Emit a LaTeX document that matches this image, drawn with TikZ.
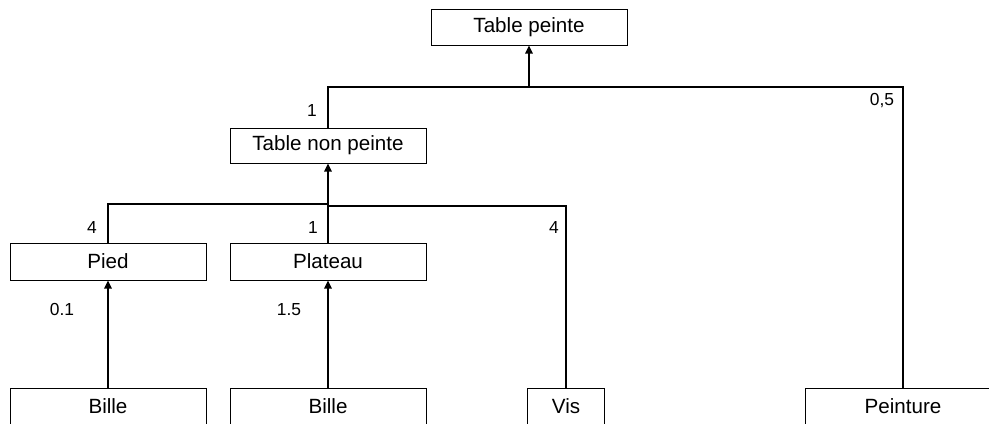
\documentclass[tikz,border=0pt]{standalone}
\usepackage{fontspec}
\setmainfont{Liberation Sans}
\usetikzlibrary{arrows.meta,positioning}
\definecolor{edgecol}{RGB}{0,0,0}

\begin{document}
\begin{tikzpicture}[x=0.5pt, y=-0.5pt,
  box/.style={draw=black, line width=0.5pt, align=center, inner sep=0pt,
              minimum width=98pt, minimum height=18.5pt, font=\fontsize{10.3}{12}\selectfont},
  ln/.style={line width=0.6pt, draw=edgecol},
  ar/.style={-{Triangle[length=4pt, width=3.6pt]}, line width=1pt, draw=edgecol},
  qty/.style={inner sep=0pt, font=\fontsize{8.7}{10}\selectfont},
]
  \clip (0,0) rectangle (989,423);

  \node[box, minimum height=18pt] (tp) at (529,27) {Table peinte};
  \node[box, minimum height=17.5pt] (tnp) at (328,145.5) {Table non peinte};
  \node[box] (pied) at (108,261.5) {Pied};
  \node[box] (plat) at (328,261.5) {Plateau};
  \node[box] (b1) at (108,406.5) {Bille};
  \node[box] (b2) at (328,406.5) {Bille};
  \node[box, minimum width=38.5pt] (vis) at (566,406.5) {Vis};
  \node[box] (pein) at (903,406.5) {Peinture};

  \coordinate (j1) at (529,87);
  \coordinate (j2) at (328,204);
  \coordinate (j2b) at (328,206);

  \draw[ln] (tnp.north) |- (j1) -| (pein.north);
  \draw[ar] (j1) -- (tp.south);
  \draw[ln] (pied.north) |- (j2) -- (plat.north);
  \draw[ln] (j2b) -| (vis.north);
  \draw[ar] (j2) -- (tnp.south);
  \draw[ar] (b1.north) -- (pied.south);
  \draw[ar] (b2.north) -- (plat.south);

  \node[qty] (q1) at (312,111) {1};
  \node[qty] (q2) at (882,101) {0,5};
  \node[qty] (q3) at (92,228) {4};
  \node[qty] (q4) at (313,228) {1};
  \node[qty] (q5) at (554,228) {4};
  \node[qty] (q6) at (62,310) {0.1};
  \node[qty] (q7) at (289,310) {1.5};
\end{tikzpicture}
\end{document}
